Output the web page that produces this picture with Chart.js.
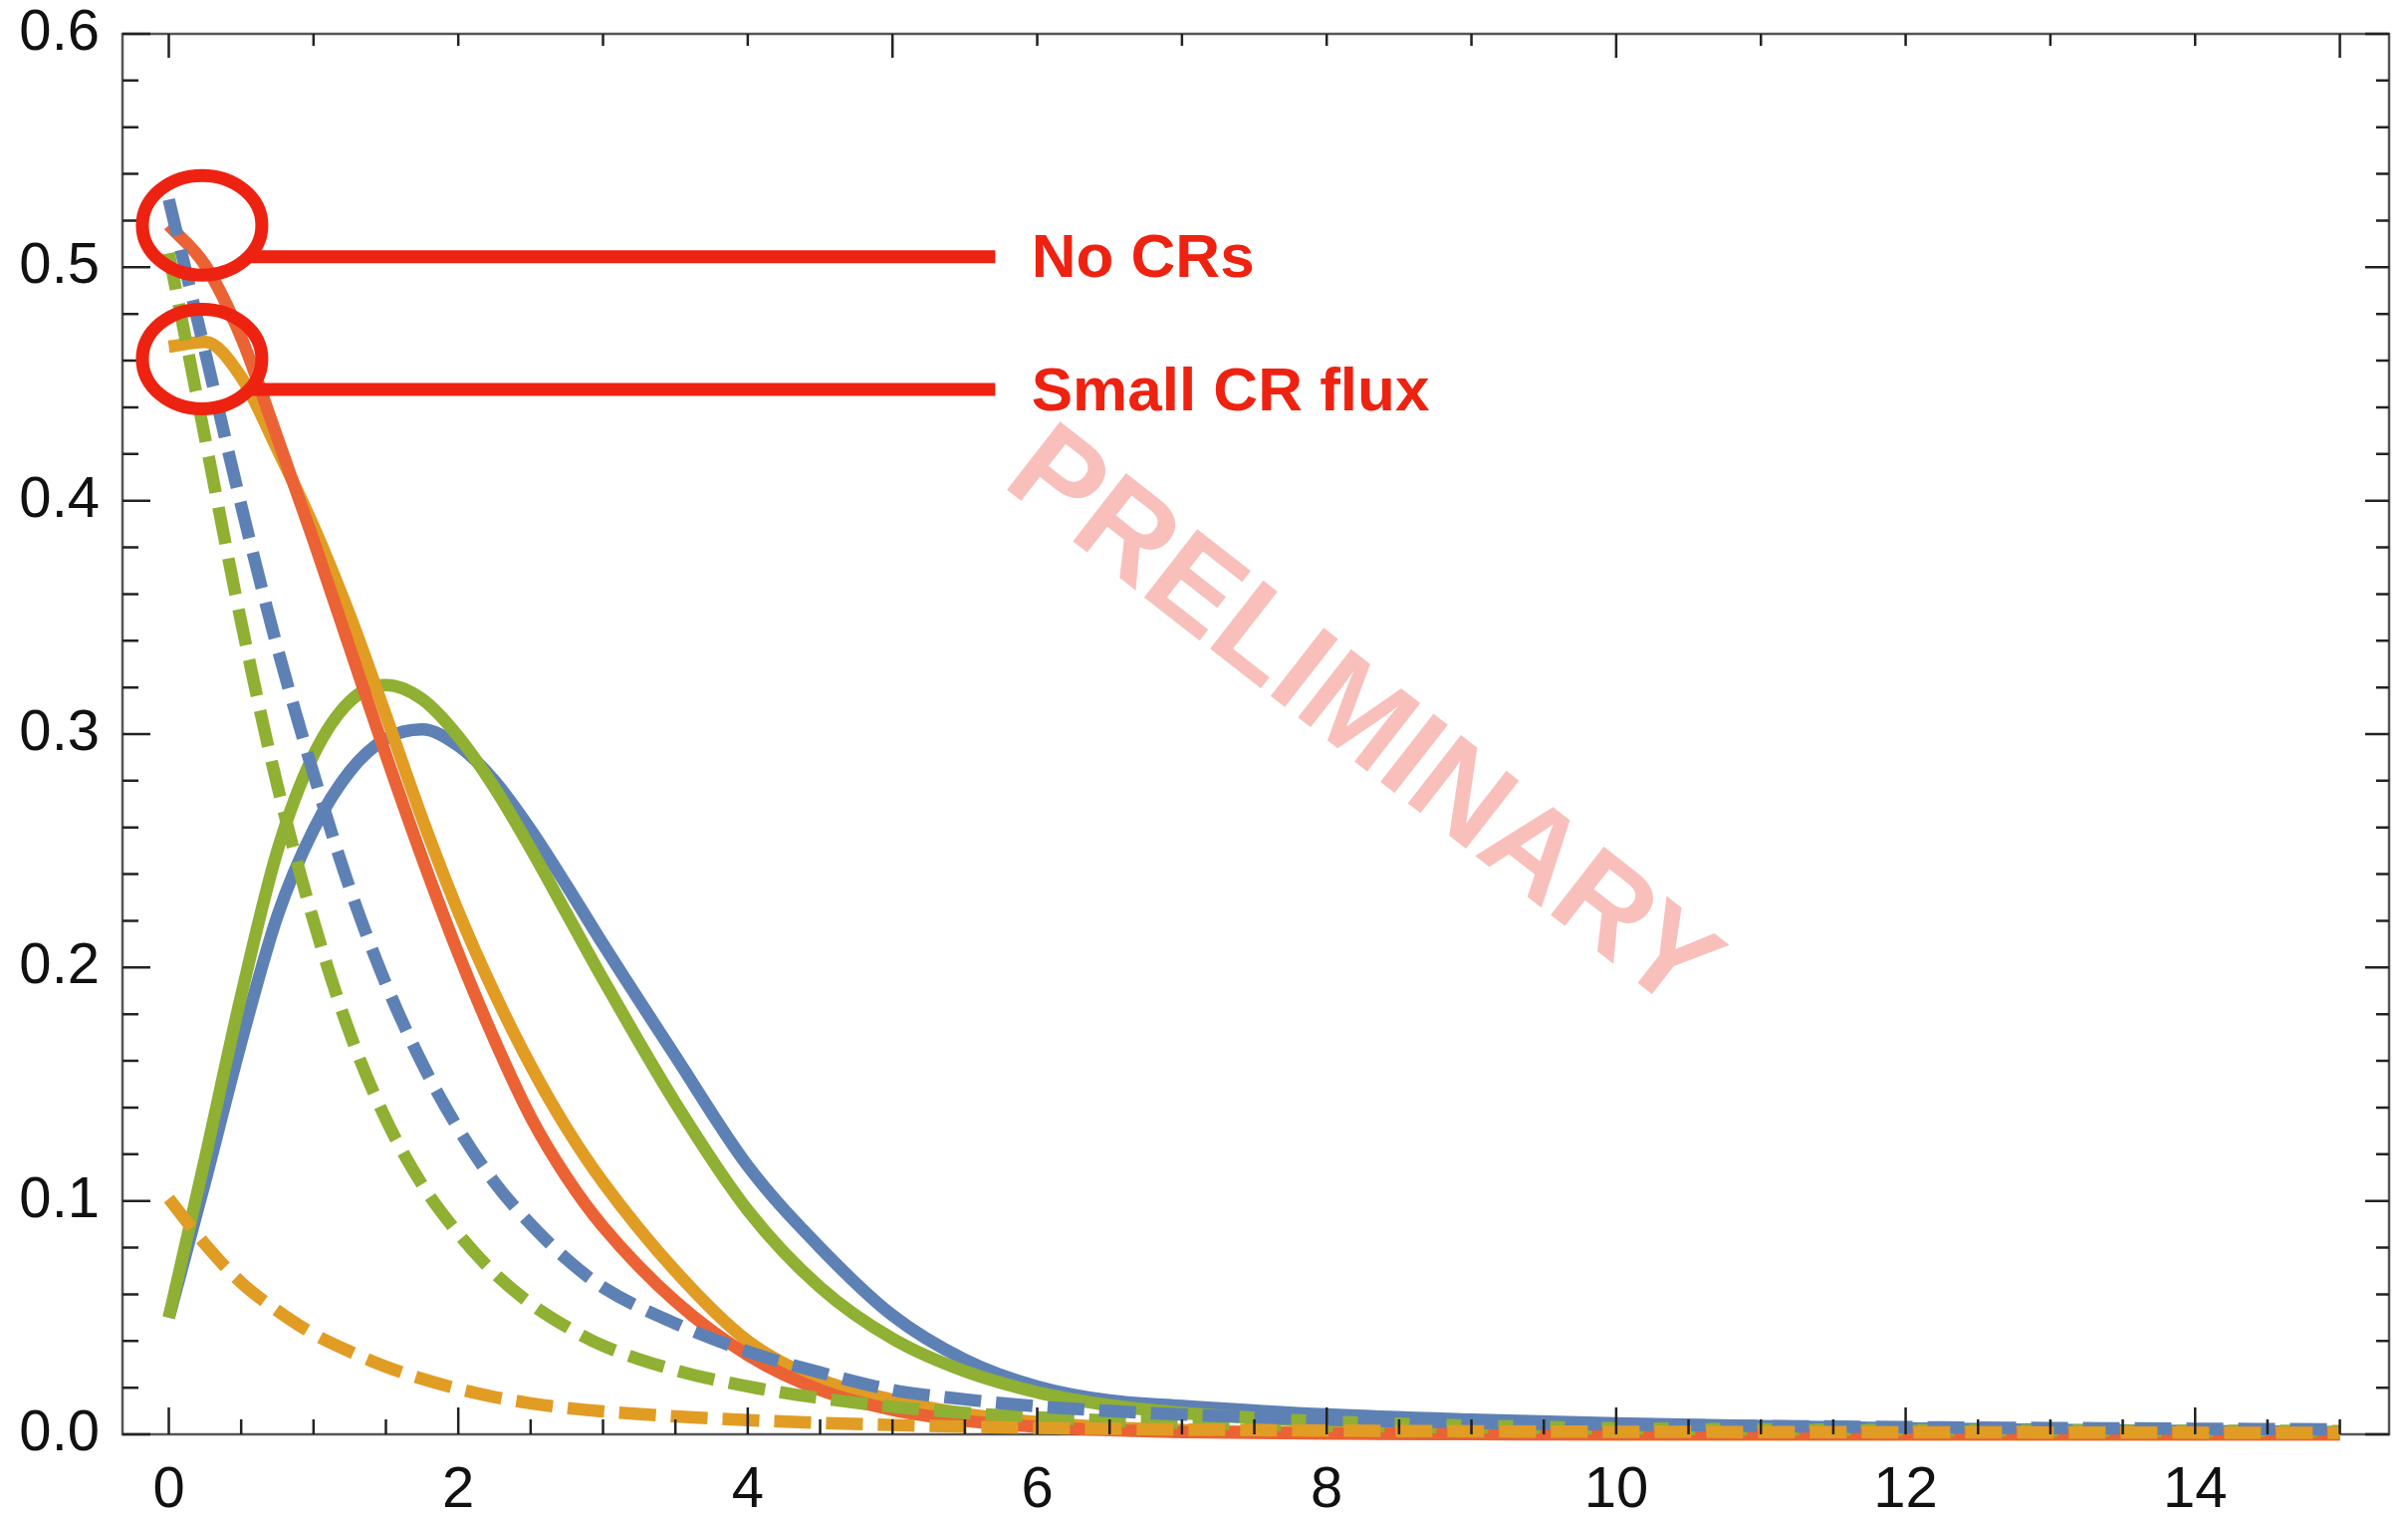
<!DOCTYPE html>
<html>
<head>
<meta charset="utf-8">
<title>Distribution with and without CRs</title>
<script src="https://cdn.jsdelivr.net/npm/chart.js@4.4.1/dist/chart.umd.min.js"></script>
<style>
  html, body { margin: 0; padding: 0; background: #ffffff; }
  #wrap { width: 2418px; height: 1524px; position: relative; }
</style>
</head>
<body>
<div id="wrap"><canvas id="plot"></canvas></div>
<script>
// sample points along x (finer where the curves bend)
const xs = [0, 0.25, 0.5, 0.75, 1, 1.25, 1.5, 1.75, 2, 2.25, 2.5, 2.75, 3,
            3.5, 4, 4.5, 5, 5.5, 6, 6.5, 7,
            8, 9, 10, 11, 12, 13, 14, 15];

// solid curves
const blueSolid = [0.050, 0.108, 0.168, 0.222, 0.259, 0.284, 0.298, 0.302, 0.295, 0.280, 0.259, 0.235, 0.210,
                   0.162, 0.115, 0.080, 0.051, 0.032, 0.0205, 0.0145, 0.0122,
                   0.0085, 0.0063, 0.0047, 0.0035, 0.0026, 0.0019, 0.0014, 0.001];
const greenSolid = [0.050, 0.118, 0.188, 0.250, 0.291, 0.314, 0.321, 0.315, 0.299, 0.277, 0.251, 0.223, 0.195,
                    0.142, 0.096, 0.063, 0.041, 0.027, 0.018, 0.0125, 0.0092,
                    0.0055, 0.0037, 0.0026, 0.0019, 0.0014, 0.001, 0.0008, 0.0006];
const redSolid = [0.518, 0.501, 0.470, 0.427, 0.383, 0.337, 0.291, 0.247, 0.206, 0.169, 0.136, 0.110, 0.089,
                  0.057, 0.034, 0.019, 0.0105, 0.0058, 0.0032, 0.0018, 0.001,
                  0.0003, 0.0001, 0, 0, 0, 0, 0, 0];
const orangeSolid = [0.466, 0.468, 0.453, 0.422, 0.389, 0.351, 0.308, 0.264, 0.224, 0.189, 0.158, 0.131, 0.108,
                     0.070, 0.040, 0.0235, 0.0148, 0.0088, 0.0052, 0.003, 0.0018,
                     0.0006, 0.0002, 0, 0, 0, 0, 0, 0];

// dashed curves
const blueDashed = [0.529, 0.464, 0.398, 0.337, 0.283, 0.234, 0.193, 0.159, 0.131, 0.108, 0.090, 0.075, 0.063,
                    0.0475, 0.0355, 0.0265, 0.019, 0.015, 0.012, 0.010, 0.0085,
                    0.0063, 0.005, 0.0042, 0.0036, 0.0031, 0.0027, 0.0024, 0.0021];
const greenDashed = [0.506, 0.427, 0.348, 0.278, 0.220, 0.172, 0.135, 0.107, 0.086, 0.069, 0.056, 0.046, 0.038,
                     0.0275, 0.0205, 0.0155, 0.0118, 0.0092, 0.0073, 0.0059, 0.0049,
                     0.0037, 0.003, 0.0025, 0.0021, 0.0018, 0.0016, 0.0015, 0.0014];
const orangeDashed = [0.101, 0.0815, 0.065, 0.053, 0.043, 0.0355, 0.029, 0.0238, 0.0195, 0.016, 0.0133, 0.0113, 0.0098,
                      0.0077, 0.0061, 0.0049, 0.004, 0.0033, 0.0028, 0.0024, 0.0021,
                      0.0016, 0.0013, 0.0011, 0.001, 0.0009, 0.0008, 0.0007, 0.0006];

// tick labels
const xTickValues = [0, 2, 4, 6, 8, 10, 12, 14];
const yTickValues = [0, 0.1, 0.2, 0.3, 0.4, 0.5, 0.6];

const X_MIN = -0.32;
const X_MAX = 15.34;

const COLORS = {
    blue: '#5E81B5',
    orange: '#E19C24',
    green: '#8FB032',
    red: '#EB6235'
};
const NOTE_RED = '#EE2211';
const FONT = '"Liberation Sans", Arial, Helvetica, sans-serif';

// callouts: circle round the curve starts, leader line, label
const callouts = [
    { text: 'No CRs', cx: 0.23, cy: 0.518, lineY: 0.5045, textY: 0.4957 },
    { text: 'Small CR flux', cx: 0.23, cy: 0.4607, lineY: 0.4476, textY: 0.4389 }
];
const LEADER_END_X = 5.71;
const LABEL_X = 5.96;

function points(values) {
    return xs.map((x, i) => ({ x, y: values[i] }));
}

function curve(values, color, dashed) {
    return {
        data: points(values),
        borderColor: color,
        borderWidth: 12.5,
        borderDash: dashed ? [37, 15] : [],
        borderCapStyle: 'butt',
        borderJoinStyle: 'round',
        pointRadius: 0,
        fill: false,
        cubicInterpolationMode: 'monotone',
        clip: false
    };
}

// Mathematica-style frame with inward ticks on all four sides
const framePlugin = {
    id: 'frame',
    beforeDatasetsDraw(chart) {
        const { ctx, chartArea: a } = chart;
        ctx.save();
        ctx.strokeStyle = '#555555';
        ctx.lineWidth = 2.5;
        ctx.strokeRect(a.left, a.top, a.right - a.left, a.bottom - a.top);
        ctx.restore();
    },
    afterDatasetsDraw(chart) {
        const { ctx, chartArea: a, scales: { x, y } } = chart;
        ctx.save();
        ctx.strokeStyle = '#222222';
        ctx.lineWidth = 2.5;
        ctx.beginPath();
        // bottom: major every 2, minor every 0.5
        for (let i = 0; i <= 30; i++) {
            const px = x.getPixelForValue(i * 0.5);
            const len = i % 4 === 0 ? 27 : 15;
            ctx.moveTo(px, a.bottom);
            ctx.lineTo(px, a.bottom - len);
        }
        // top: major every 5, minor every 1
        for (let v = 0; v <= 15; v++) {
            const px = x.getPixelForValue(v);
            const len = v % 5 === 0 ? 24 : 12;
            ctx.moveTo(px, a.top);
            ctx.lineTo(px, a.top + len);
        }
        // left and right: major every 0.1, minor every 0.02
        for (let i = 0; i <= 30; i++) {
            const py = y.getPixelForValue(i * 0.02);
            const major = i % 5 === 0;
            ctx.moveTo(a.left, py);
            ctx.lineTo(a.left + (major ? 28 : 16), py);
            ctx.moveTo(a.right, py);
            ctx.lineTo(a.right - (major ? 24 : 13), py);
        }
        ctx.stroke();
        ctx.restore();
    }
};

const calloutPlugin = {
    id: 'callouts',
    afterDatasetsDraw(chart) {
        const { ctx, scales: { x, y } } = chart;
        const rx = 60, ry = 50;
        ctx.save();
        ctx.strokeStyle = NOTE_RED;
        ctx.fillStyle = NOTE_RED;
        ctx.lineWidth = 13;
        ctx.font = 'bold 62px ' + FONT;
        ctx.textAlign = 'left';
        ctx.textBaseline = 'alphabetic';
        callouts.forEach(c => {
            const cx = x.getPixelForValue(c.cx);
            const cy = y.getPixelForValue(c.cy);
            ctx.beginPath();
            ctx.ellipse(cx, cy, rx, ry, 0, 0, Math.PI * 2);
            ctx.stroke();

            const ly = y.getPixelForValue(c.lineY);
            const t = (ly - cy) / ry;
            const startX = cx + rx * Math.sqrt(Math.max(0, 1 - t * t));
            ctx.beginPath();
            ctx.moveTo(startX, ly);
            ctx.lineTo(x.getPixelForValue(LEADER_END_X), ly);
            ctx.stroke();

            ctx.fillText(c.text, x.getPixelForValue(LABEL_X), y.getPixelForValue(c.textY));
        });
        ctx.restore();
    }
};

const watermarkPlugin = {
    id: 'watermark',
    afterDraw(chart) {
        const { ctx } = chart;
        ctx.save();
        ctx.translate(1366, 725);
        ctx.rotate(38 * Math.PI / 180);
        ctx.fillStyle = '#F9C0BB';
        ctx.font = 'bold 126px ' + FONT;
        ctx.textAlign = 'center';
        ctx.textBaseline = 'middle';
        ctx.fillText('PRELIMINARY', 0, 0);
        ctx.restore();
    }
};

const tickFont = { family: FONT, size: 58, lineHeight: 1.2 };

new Chart(document.getElementById('plot'), {
    type: 'line',
    data: {
        // first dataset ends up on top
        datasets: [
            curve(orangeDashed, COLORS.orange, true),
            curve(blueDashed, COLORS.blue, true),
            curve(greenDashed, COLORS.green, true),
            curve(redSolid, COLORS.red, false),
            curve(orangeSolid, COLORS.orange, false),
            curve(greenSolid, COLORS.green, false),
            curve(blueSolid, COLORS.blue, false)
        ]
    },
    options: {
        responsive: true,
        maintainAspectRatio: false,
        animation: false,
        events: [],
        layout: { padding: { top: 34, right: 19, left: 0, bottom: 0 } },
        plugins: {
            legend: { display: false },
            tooltip: { enabled: false }
        },
        scales: {
            x: {
                type: 'linear',
                min: X_MIN,
                max: X_MAX,
                grid: { display: false, drawTicks: false },
                border: { display: false },
                afterBuildTicks: s => { s.ticks = xTickValues.map(v => ({ value: v })); },
                afterFit: s => { s.height = 84; s.paddingLeft = 0; s.paddingRight = 0; },
                ticks: {
                    font: tickFont,
                    color: '#111111',
                    padding: 22,
                    maxRotation: 0,
                    autoSkip: false,
                    callback: v => String(v)
                }
            },
            y: {
                type: 'linear',
                min: 0,
                max: 0.6,
                grid: { display: false, drawTicks: false },
                border: { display: false },
                afterBuildTicks: s => { s.ticks = yTickValues.map(v => ({ value: v })); },
                afterFit: s => { s.width = 123; s.paddingTop = 0; s.paddingBottom = 0; },
                ticks: {
                    font: tickFont,
                    color: '#111111',
                    padding: 23,
                    autoSkip: false,
                    callback: v => v.toFixed(1)
                }
            }
        }
    },
    plugins: [framePlugin, calloutPlugin, watermarkPlugin]
});
</script>
</body>
</html>
